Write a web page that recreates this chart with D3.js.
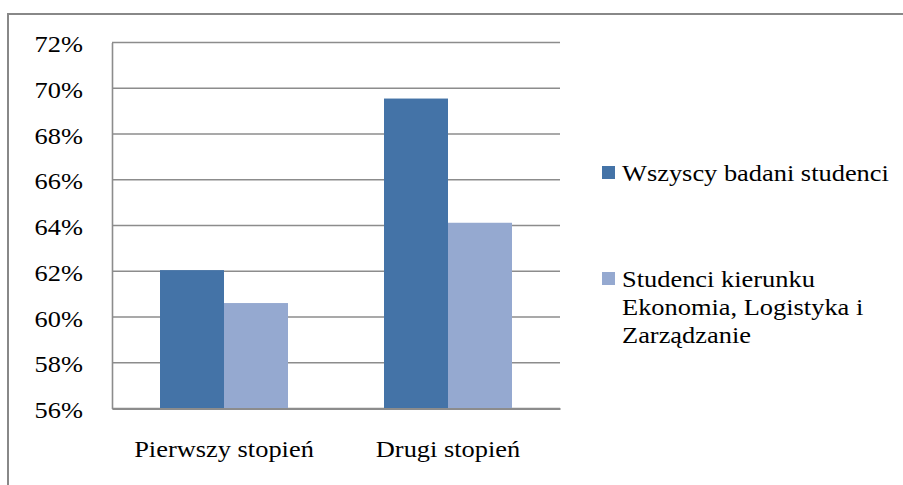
<!DOCTYPE html>
<html>
<head>
<meta charset="utf-8">
<script src="https://cdn.jsdelivr.net/npm/d3@7"></script>
<style>
  body { margin: 0; background: #fff; }
  svg { display: block; }
  text { font-family: "Liberation Serif", "Times New Roman", serif; fill: #000; }
</style>
</head>
<body>
<svg id="chart" width="903" height="485"></svg>
<script>
// chart values
var categories = ["Pierwszy stopień", "Drugi stopień"];
var seriesNames = ["Wszyscy badani studenci", "Studenci kierunku Ekonomia, Logistyka i Zarządzanie"];
var allStudents = [0.6205, 0.6955];
var elzStudents = [0.6061, 0.6412];
var yTicks = [0.56, 0.58, 0.60, 0.62, 0.64, 0.66, 0.68, 0.70, 0.72];
var legendLines = [["Wszyscy badani studenci"], ["Studenci kierunku", "Ekonomia, Logistyka i", "Zarządzanie"]];

var colors = ["#4473a7", "#95a9d0"];
var fontSize = "24px";
var stretch = 1.1; // the picture is a bit wider than tall
var svg = d3.select("#chart");

// outer frame, cut by the page edges like the picture
svg.append("rect")
    .attr("x", 8).attr("y", 14)
    .attr("width", 960).attr("height", 520)
    .attr("fill", "none")
    .attr("stroke", "#888")
    .attr("stroke-width", 2);

var plotLeft = 112, plotRight = 560, plotTop = 42.5, plotBottom = 408.5;

var y = d3.scaleLinear().domain([0.56, 0.72]).range([plotBottom, plotTop]);
var x0 = d3.scaleBand().domain(categories).range([plotLeft, plotRight]).paddingInner(0).paddingOuter(0);
var x1 = d3.scaleBand().domain([0, 1]).range([x0.bandwidth() * 0.2143, x0.bandwidth() * 0.7857]);

// gridlines
svg.append("g").selectAll("line")
    .data(yTicks)
    .enter().append("line")
    .attr("x1", plotLeft).attr("x2", plotRight)
    .attr("y1", function (d) { return y(d); })
    .attr("y2", function (d) { return y(d); })
    .attr("stroke", "#8c8c8c")
    .attr("stroke-width", 1.6);

// bars
var rows = categories.map(function (c, i) { return { cat: c, vals: [allStudents[i], elzStudents[i]] }; });
var groups = svg.append("g").selectAll("g")
    .data(rows)
    .enter().append("g")
    .attr("transform", function (d) { return "translate(" + x0(d.cat) + ",0)"; });

groups.selectAll("rect")
    .data(function (d) { return d.vals; })
    .enter().append("rect")
    .attr("x", function (d, i) { return x1(i); })
    .attr("width", x1.bandwidth())
    .attr("y", function (d) { return y(d); })
    .attr("height", function (d) { return plotBottom - y(d); })
    .attr("fill", function (d, i) { return colors[i]; });

// y axis
var yAxis = d3.axisLeft(y).tickValues(yTicks).tickSize(0).tickPadding(29)
    .tickFormat(d3.format(".0%"));
var gy = svg.append("g").attr("transform", "translate(" + plotLeft + ",0)").call(yAxis);
gy.select(".domain").attr("stroke", "#8c8c8c").attr("stroke-width", 1.6);
gy.selectAll("text")
    .attr("dy", "0.38em")
    .style("font-family", "'Liberation Serif', 'Times New Roman', serif")
    .style("font-size", fontSize)
    .attr("fill", "#000");

// x axis
var xAxis = d3.axisBottom(x0).tickSize(0);
var gx = svg.append("g").attr("transform", "translate(0," + plotBottom + ")").call(xAxis);
gx.select(".domain").attr("stroke", "#8c8c8c").attr("stroke-width", 2);
gx.selectAll("text")
    .attr("dy", null)
    .attr("y", 48)
    .style("font-family", "'Liberation Serif', 'Times New Roman', serif")
    .style("font-size", fontSize)
    .attr("fill", "#000");

// legend
var legendTop = [166, 272];
var legend = svg.append("g").selectAll("g")
    .data(seriesNames)
    .enter().append("g")
    .attr("transform", function (d, i) { return "translate(602," + legendTop[i] + ")"; });

legend.append("rect")
    .attr("width", 13).attr("height", 13)
    .attr("fill", function (d, i) { return colors[i]; });

legend.append("text")
    .style("font-size", fontSize)
    .each(function (d, i) {
        var t = d3.select(this);
        legendLines[i].forEach(function (line, j) {
            t.append("tspan").attr("x", 20).attr("y", 15 + j * 28).text(line);
        });
    });

// widen glyphs a little to match the stretched original
svg.selectAll("text").each(function () {
    var el = d3.select(this);
    var spans = el.selectAll("tspan");
    if (spans.size()) {
        spans.each(function () {
            var w = this.getComputedTextLength();
            d3.select(this).attr("textLength", w * stretch).attr("lengthAdjust", "spacingAndGlyphs");
        });
    } else {
        var w = this.getComputedTextLength();
        el.attr("textLength", w * stretch).attr("lengthAdjust", "spacingAndGlyphs");
    }
});
</script>
</body>
</html>
